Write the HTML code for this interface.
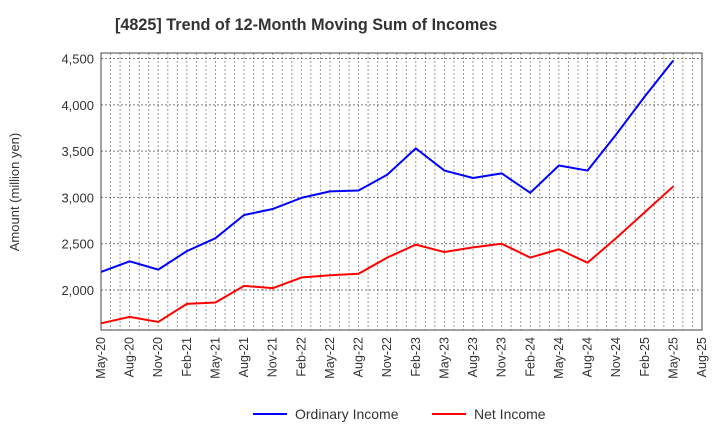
<!DOCTYPE html>
<html><head><meta charset="utf-8"><style>
body{margin:0;background:#fff;font-family:"Liberation Sans",Arial,sans-serif}
</style></head><body>
<svg id="chart" width="720" height="440" viewBox="0 0 720 440" xmlns="http://www.w3.org/2000/svg">
<text x="115" y="30" font-size="16.2" font-weight="bold" fill="#333">[4825]  Trend of 12-Month Moving Sum of Incomes</text>
<text transform="translate(19,192) rotate(-90)" text-anchor="middle" font-size="13" fill="#333">Amount (million yen)</text>
<g id="grid"></g><g id="ticks"></g><g id="lines"></g>
<rect x="101" y="53" width="601" height="277" fill="none" stroke="#444" stroke-width="1"/>
<g>
<line x1="253" y1="414" x2="287" y2="414" stroke="#0000ff" stroke-width="2"/>
<text x="295" y="419" font-size="14" fill="#333">Ordinary Income</text>
<line x1="432" y1="414" x2="466" y2="414" stroke="#ff0000" stroke-width="2"/>
<text x="474" y="419" font-size="14" fill="#333">Net Income</text>
</g>
</svg>
<script>
const categories=["May-20","Aug-20","Nov-20","Feb-21","May-21","Aug-21","Nov-21","Feb-22","May-22","Aug-22","Nov-22","Feb-23","May-23","Aug-23","Nov-23","Feb-24","May-24","Aug-24","Nov-24","Feb-25","May-25","Aug-25"];
const ordinaryIncome=[2195,2310,2220,2420,2560,2810,2875,2995,3065,3075,3245,3530,3290,3210,3260,3050,3345,3290,3680,4090,4480];
const netIncome=[1640,1710,1655,1850,1865,2045,2020,2135,2160,2175,2350,2490,2410,2460,2500,2350,2440,2295,2560,2840,3120];
const yTicks=[2000,2500,3000,3500,4000,4500];
const NS="http://www.w3.org/2000/svg";
const L=101,R=702,T=53,B=330,YMIN=1568,YMAX=4560;
function x(i){return L+(R-L)*i/(categories.length-1);}
function y(v){return B-(v-YMIN)/(YMAX-YMIN)*(B-T);}
function mk(tag,attrs,parent){const e=document.createElementNS(NS,tag);for(const k in attrs)e.setAttribute(k,attrs[k]);parent.appendChild(e);return e;}
const grid=document.getElementById('grid'),ticks=document.getElementById('ticks'),lines=document.getElementById('lines');
const months=(categories.length-1)*3;
for(let m=1;m<months;m++){const xx=L+(R-L)*m/months;
 const g=mk('line',{x1:xx,x2:xx,y1:T,y2:B,stroke:'#999','stroke-width':1,'stroke-dasharray':'2,2'},grid);
 
 }
yTicks.forEach(v=>{const yy=y(v);
 const g=mk('line',{x1:L,x2:R,y1:yy,y2:yy,stroke:'#777','stroke-width':1,'stroke-dasharray':'2,2'},grid);
 
 
 const t=mk('text',{x:L-7,y:yy+5,'text-anchor':'end','font-size':13,fill:'#333'},ticks);
 t.textContent=v.toLocaleString('en-US');
 
 });
categories.forEach((c,i)=>{const xx=x(i);
 const t=mk('text',{x:0,y:0,'text-anchor':'end','font-size':12.5,fill:'#333',transform:`translate(${xx+4},${B+7}) rotate(-90)`},ticks);
 t.textContent=c;
 
 });
function series(vals,color,name){
 const p=mk('polyline',{points:vals.map((v,i)=>x(i)+','+y(v)).join(' '),fill:'none',stroke:color,'stroke-width':2,'stroke-linejoin':'round'},lines);
 
 }
series(ordinaryIncome,'#0000ff','ordinary-income-line');
series(netIncome,'#ff0000','net-income-line');
</script>
</body></html>
